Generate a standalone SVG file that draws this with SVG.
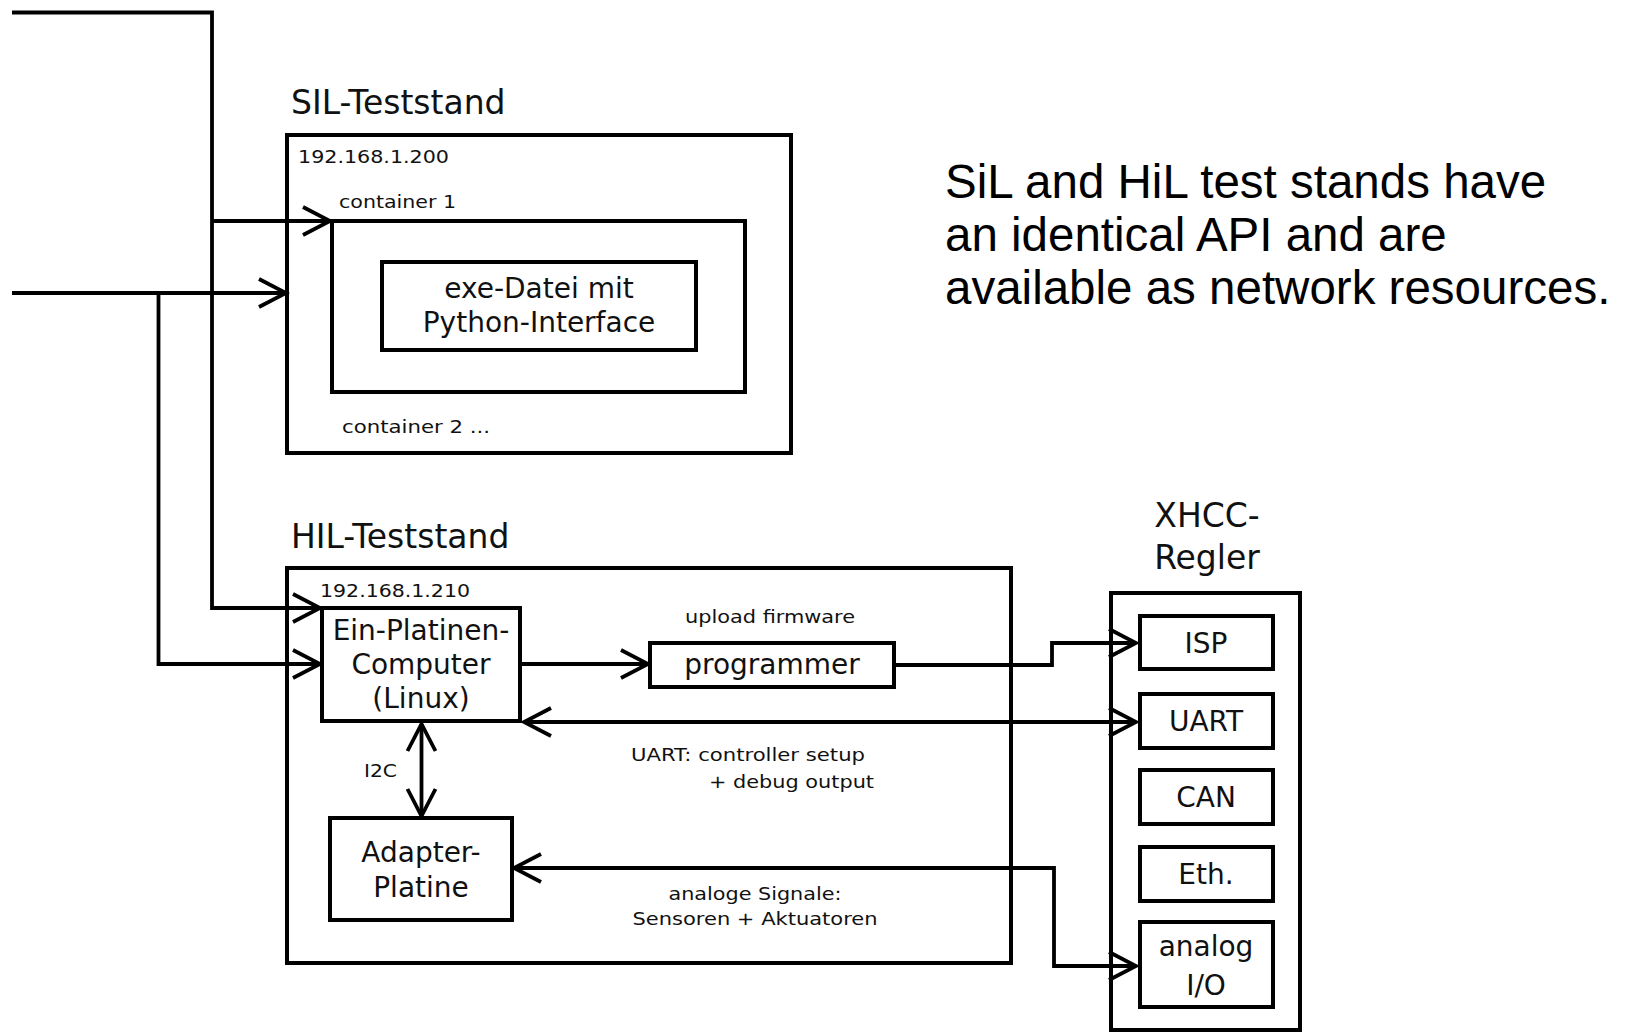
<svg xmlns="http://www.w3.org/2000/svg" width="1636" height="1033" viewBox="0 0 1636 1033">
<style>
  .box { fill: none; stroke: #000; stroke-width: 4; }
  .wire { fill: none; stroke: #000; stroke-width: 3.8; }
  .t { font-family: "DejaVu Sans", "Liberation Sans", sans-serif; fill: #111; }
  .big { font-size: 33px; }
  .lbl { font-size: 28px; text-anchor: middle; }
  .sm { font-family: "DejaVu Sans Condensed", "DejaVu Sans", sans-serif; font-size: 18px; }
  .smc { font-family: "DejaVu Sans Condensed", "DejaVu Sans", sans-serif; font-size: 18px; text-anchor: middle; }
  .note { font-family: "Liberation Sans", Arial, sans-serif; font-size: 47.5px; fill: #000; }
</style>
<defs>
  <marker id="arr" markerUnits="userSpaceOnUse" markerWidth="34" markerHeight="34" viewBox="0 0 34 34" refX="30" refY="17" orient="auto-start-reverse">
    <path d="M3,3 L30,17 L3,31" fill="none" stroke="#000" stroke-width="3.8"/>
  </marker>
</defs>
<rect x="0" y="0" width="1636" height="1033" fill="#fff"/>

<g id="connectors">
  <path class="wire" d="M12,12.5 H212 V608 H320" marker-end="url(#arr)"/>
  <path class="wire" d="M212,221 H330" marker-end="url(#arr)"/>
  <path class="wire" d="M12,293 H286" marker-end="url(#arr)"/>
  <path class="wire" d="M158.5,293 V664 H320" marker-end="url(#arr)"/>
  <path class="wire" d="M520,664 H648" marker-end="url(#arr)"/>
  <path class="wire" d="M894,665 H1052 V643 H1136" marker-end="url(#arr)"/>
  <path class="wire" d="M524,722 H1136" marker-start="url(#arr)" marker-end="url(#arr)"/>
  <path class="wire" d="M421.5,724 V816" marker-start="url(#arr)" marker-end="url(#arr)"/>
  <path class="wire" d="M514,868 H1054 V966 H1136" marker-start="url(#arr)" marker-end="url(#arr)"/>
</g>

<g id="sil">
  <text class="t big" x="291" y="114">SIL-Teststand</text>
  <rect class="box" x="287" y="135" width="504" height="318"/>
  <text class="t sm" x="298" y="163" textLength="151" lengthAdjust="spacingAndGlyphs">192.168.1.200</text>
  <text class="t sm" x="339" y="208" textLength="117" lengthAdjust="spacingAndGlyphs">container 1</text>
  <text class="t sm" x="342" y="433" textLength="148" lengthAdjust="spacingAndGlyphs">container 2 ...</text>
</g>
<g id="container1">
  <rect class="box" x="332" y="221" width="413" height="171"/>
</g>
<g id="exe">
  <rect class="box" x="382" y="262" width="314" height="88"/>
  <text class="t lbl" x="539" y="298">exe-Datei mit</text>
  <text class="t lbl" x="539" y="332">Python-Interface</text>
</g>

<g id="hil">
  <text class="t big" x="291" y="548">HIL-Teststand</text>
  <rect class="box" x="287" y="568" width="724" height="395"/>
  <text class="t sm" x="320" y="597" textLength="150" lengthAdjust="spacingAndGlyphs">192.168.1.210</text>
</g>
<g id="computer">
  <rect class="box" x="322" y="608" width="198" height="113"/>
  <text class="t lbl" x="421" y="640">Ein-Platinen-</text>
  <text class="t lbl" x="421" y="674">Computer</text>
  <text class="t lbl" x="421" y="708">(Linux)</text>
</g>
<g id="programmer">
  <rect class="box" x="650" y="643" width="244" height="44"/>
  <text class="t lbl" x="772" y="674">programmer</text>
  <text class="t smc" x="770" y="623" textLength="170" lengthAdjust="spacingAndGlyphs">upload firmware</text>
</g>
<g id="adapter">
  <rect class="box" x="330" y="818" width="182" height="102"/>
  <text class="t lbl" x="421" y="862">Adapter-</text>
  <text class="t lbl" x="421" y="897">Platine</text>
</g>
<g id="labels">
  <text class="t sm" x="364" y="777" textLength="33" lengthAdjust="spacingAndGlyphs">I2C</text>
  <text class="t sm" x="631" y="761" textLength="234" lengthAdjust="spacingAndGlyphs">UART: controller setup</text>
  <text class="t sm" x="709" y="788" textLength="165" lengthAdjust="spacingAndGlyphs">+ debug output</text>
  <text class="t smc" x="755" y="900" textLength="173" lengthAdjust="spacingAndGlyphs">analoge Signale:</text>
  <text class="t smc" x="755" y="925" textLength="245" lengthAdjust="spacingAndGlyphs">Sensoren + Aktuatoren</text>
</g>

<g id="xhcc">
  <text class="t big" x="1207" y="527" text-anchor="middle">XHCC-</text>
  <text class="t big" x="1207" y="569" text-anchor="middle">Regler</text>
  <rect class="box" x="1111" y="593" width="189" height="437"/>
</g>
<g id="isp">
  <rect class="box" x="1140" y="616" width="133" height="53"/>
  <text class="t lbl" x="1206" y="653">ISP</text>
</g>
<g id="uart">
  <rect class="box" x="1140" y="694" width="133" height="54"/>
  <text class="t lbl" x="1206" y="731">UART</text>
</g>
<g id="can">
  <rect class="box" x="1140" y="770" width="133" height="54"/>
  <text class="t lbl" x="1206" y="807">CAN</text>
</g>
<g id="eth">
  <rect class="box" x="1140" y="847" width="133" height="54"/>
  <text class="t lbl" x="1206" y="884">Eth.</text>
</g>
<g id="analog">
  <rect class="box" x="1140" y="922" width="133" height="85"/>
  <text class="t lbl" x="1206" y="956">analog</text>
  <text class="t lbl" x="1206" y="995">I/O</text>
</g>

<g id="note">
  <text class="note" x="945" y="198">SiL and HiL test stands have</text>
  <text class="note" x="945" y="251">an identical API and are</text>
  <text class="note" x="945" y="304">available as network resources.</text>
</g>
</svg>
